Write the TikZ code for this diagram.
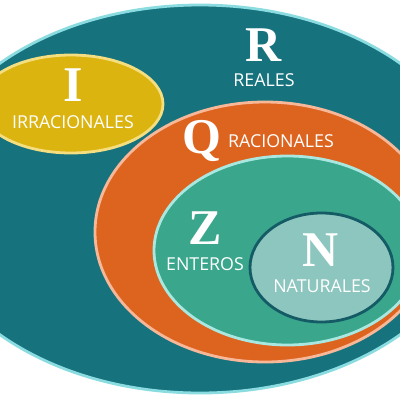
\documentclass[tikz,border=0pt]{standalone}
\usepackage{fontspec}
\setmainfont{Open Sans}
\newfontfamily\bigserif{Liberation Serif}
\definecolor{rfill}{HTML}{16737E}
\definecolor{rline}{HTML}{8ADCE0}
\definecolor{ifill}{HTML}{DBB410}
\definecolor{iline}{HTML}{F4DE80}
\definecolor{qfill}{HTML}{DD641F}
\definecolor{qline}{HTML}{F7B89A}
\definecolor{zfill}{HTML}{3AA68C}
\definecolor{zline}{HTML}{A8E8E0}
\definecolor{nfill}{HTML}{8CC6BE}
\definecolor{nline}{HTML}{145B66}
\tikzset{
  setbig/.style={font=\bigserif\bfseries\fontsize{50}{50}\selectfont, text=white, inner sep=0pt},
  setname/.style={font=\fontsize{17.8}{17.8}\selectfont, text=white, inner sep=0pt},
  setline/.style={line width=2.8pt},
}
\begin{document}
\begin{tikzpicture}[x=1pt,y=-1pt]
\useasboundingbox (0,0) rectangle (400,400);
\fill[white] (0,0) rectangle (400,400);
\clip (0,0) rectangle (400,400);
\draw[setline, rline, fill=rfill] (200,199) ellipse [x radius=280, y radius=194];
\draw[setline, iline, fill=ifill] (71,104) ellipse [x radius=92, y radius=49];
\draw[setline, qline, fill=qfill] (265,232) ellipse [x radius=170, y radius=130];
\draw[setline, zline, fill=zfill] (287.5,250.5) ellipse [x radius=133.5, y radius=94.5];
\draw[setline, nline, fill=nfill] (321.5,267.5) ellipse [x radius=71.5, y radius=54.5];
\node[setbig] (rl) at (264,45) {R};
\node[setname] (rn) at (264,80) {REALES};
\node[setbig] (il) at (73,85) {I};
\node[setname] (in) at (73,122) {IRRACIONALES};
\node[setbig] (ql) at (202,141) {Q};
\node[setname] (qn) at (281,141) {RACIONALES};
\node[setbig] (zl) at (205,228) {Z};
\node[setname] (zn) at (205,264) {ENTEROS};
\node[setbig] (nl) at (321,250) {N};
\node[setname] (nn) at (322,286) {NATURALES};
\end{tikzpicture}
\end{document}
